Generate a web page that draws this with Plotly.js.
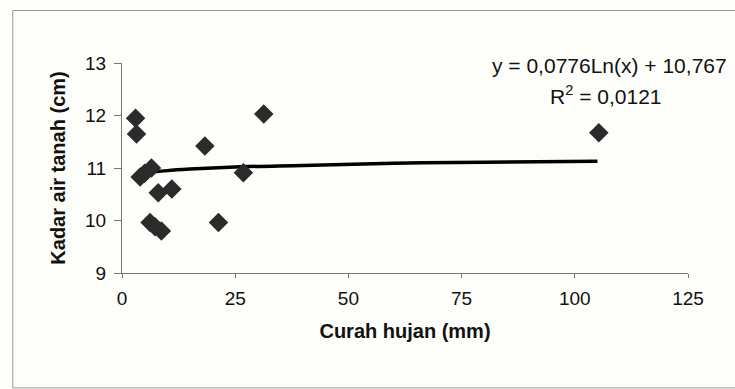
<!DOCTYPE html>
<html>
<head>
<meta charset="utf-8">
<script src="https://cdn.plot.ly/plotly-3.0.1.min.js"></script>
<style>html,body{margin:0;padding:0;background:#fdfdf9;}#chart{width:735px;height:389px;}</style>
</head>
<body>
<div id="chart"></div>
<script>
// Observed points: rainfall (mm) vs groundwater level (cm)
const curahHujan = [3, 3.2, 4, 5, 6.5, 8, 11, 6.2, 7.3, 8.7, 18.3, 21.3, 26.8, 31.3, 105.3];
const kadarAir   = [11.95, 11.65, 10.83, 10.9, 11.0, 10.53, 10.6, 9.96, 9.88, 9.8, 11.42, 9.96, 10.91, 12.03, 11.67];

// Logarithmic trendline, points
const trendX = [4, 6, 10, 15, 25, 40, 60, 80, 105];
const trendY = [10.87, 10.91, 10.95, 10.98, 11.02, 11.05, 11.09, 11.11, 11.13];

const xTicks = [0, 25, 50, 75, 100, 125];
const yTicks = [9, 10, 11, 12, 13];

const eqText = 'y = 0,0776Ln(x) + 10,767';
const r2Text = 'R<sup>2</sup> = 0,0121';

const traces = [
  {x: trendX, y: trendY, mode: 'lines', line: {color: '#000', width: 3.5, shape: 'spline'}, hoverinfo: 'skip'},
  {x: curahHujan, y: kadarAir, mode: 'markers', marker: {symbol: 'diamond', size: 15, color: '#2b2b2b'}}
];

const layout = {
  width: 735, height: 389,
  margin: {l: 122, r: 47, t: 63, b: 116},
  paper_bgcolor: '#fdfdf9', plot_bgcolor: 'rgba(0,0,0,0)',
  showlegend: false,
  font: {family: 'Liberation Sans, Arial, sans-serif', color: '#111', size: 19},
  xaxis: {
    range: [0, 125], tickvals: xTicks, ticktext: xTicks.map(String),
    showgrid: false, zeroline: false, showline: true, linecolor: '#777', linewidth: 1,
    ticks: 'outside', ticklen: 4, tickcolor: '#777',
    tickfont: {size: 19}, ticklabelstandoff: 4,
    title: {text: '<b>Curah hujan (mm)</b>', font: {size: 20}, standoff: 16}
  },
  yaxis: {
    range: [9, 13], tickvals: yTicks, ticktext: yTicks.map(String),
    showgrid: false, zeroline: false, showline: true, linecolor: '#777', linewidth: 1,
    ticks: 'outside', ticklen: 7, tickcolor: '#777',
    tickfont: {size: 19}, ticklabelstandoff: 4,
    title: {text: '<b>Kadar air tanah (cm)</b>', font: {size: 20}, standoff: 14}
  },
  annotations: [
    {xref: 'paper', yref: 'paper', x: 0.862, y: 0.99, text: eqText, showarrow: false, font: {size: 21}, xanchor: 'center', yanchor: 'middle'},
    {xref: 'paper', yref: 'paper', x: 0.855, y: 0.848, text: r2Text, showarrow: false, font: {size: 21}, xanchor: 'center', yanchor: 'middle'}
  ],
  shapes: [
    {type: 'rect', xref: 'paper', yref: 'paper', x0: -0.193, x1: 1.2, y0: -0.547, y1: 1.25, line: {color: '#999', width: 1}, fillcolor: 'rgba(0,0,0,0)'}
  ]
};

Plotly.newPlot('chart', traces, layout, {displayModeBar: false, staticPlot: true});
</script>
</body>
</html>
